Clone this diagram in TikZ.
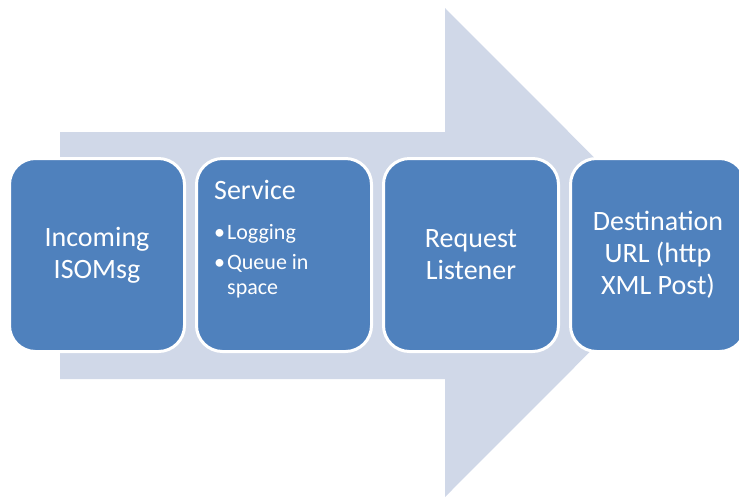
\documentclass[tikz,border=0pt]{standalone}
\usepackage{fontspec}
\setmainfont{Carlito}
\usetikzlibrary{positioning}
\definecolor{stagefill}{HTML}{4F81BD}
\definecolor{flowfill}{HTML}{D0D8E8}
\tikzset{%
    stage/.style={rectangle, draw=white, line width=3pt, fill=stagefill, rounded corners=26pt,
        minimum width=175pt, minimum height=193pt, text=white, align=center,
        font=\fontsize{28}{32}\selectfont},
    stagetext/.style={inner sep=0pt, text=white, align=left, font=\fontsize{28}{32}\selectfont},
    flow/.style={fill=flowfill}
}

\begin{document}
\begin{tikzpicture}[x=1pt, y=-1pt, node distance=9pt]
    \useasboundingbox (0,0) rectangle (739,499);
    \clip (0,0) rectangle (739,499);
    % big background arrow
    \fill[flow] (60,132) -- (445,132) -- (445,8) -- (689,252.5) -- (445,497)
        -- (445,379) -- (60,379) -- cycle;
    \node[stage] (incoming) at (97,255) {Incoming\\ISOMsg};
    \node[stage, right=of incoming] (service) {};
    \node[stage, right=of service] (listener) {Request\\Listener};
    \node[stage, right=of listener] (destination) {Destination\\URL (http\\XML Post)};
    \node[stagetext, below right=23pt and 19pt of service.north west] (servicetext)
        {Service\\[8pt]{\fontsize{22}{25}\selectfont
        \begin{tabular}[t]{@{}l@{\hspace{2pt}}l@{}}
            \textbullet & Logging\\[5pt]
            \textbullet & Queue in\\
                        & space
        \end{tabular}}};
\end{tikzpicture}
\end{document}
